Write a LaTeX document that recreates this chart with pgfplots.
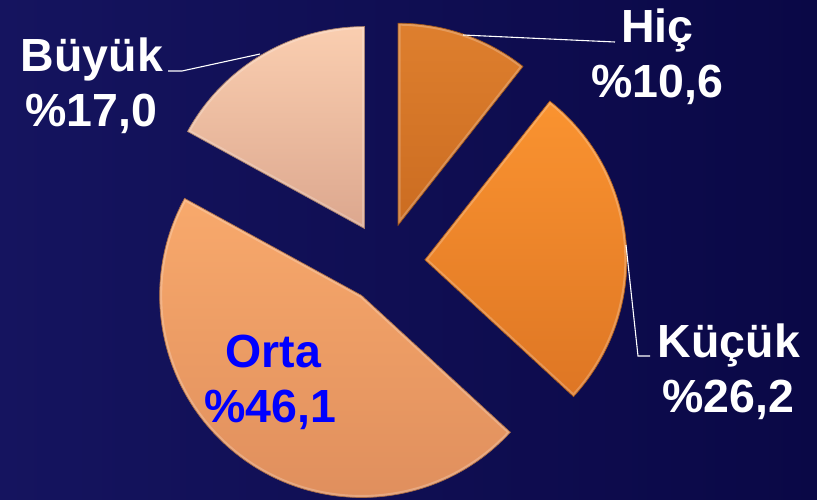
\documentclass[border=0pt]{standalone}
\usepackage{pgfplots}
\pgfplotsset{compat=1.18}
\usepackage{fontspec}
\setmainfont{Liberation Sans}
\definecolor{bgL}{HTML}{15145F}
\definecolor{bgR}{HTML}{0A0846}
\definecolor{hicT}{HTML}{DE7F2E}
\definecolor{hicB}{HTML}{CB6C21}
\definecolor{kucT}{HTML}{FA9330}
\definecolor{kucB}{HTML}{DE7624}
\definecolor{ortT}{HTML}{F8A96C}
\definecolor{ortB}{HTML}{DE8D5C}
\definecolor{buyT}{HTML}{FACEB0}
\definecolor{buyB}{HTML}{DCA78E}
\newcommand\slicepath[4]{(axis cs:#1,#2) -- ++(#3:\R pt) arc[start angle=#3, end angle=#4, radius=\R pt] -- cycle}
\newcommand\slice[6]{%
  \shade[overlay, top color=#5, bottom color=#6] \slicepath{#1}{#2}{#3}{#4};
  \begin{scope}[overlay]
    \clip \slicepath{#1}{#2}{#3}{#4};
    \draw[white, opacity=0.22, line width=5pt] \slicepath{#1}{#2}{#3}{#4};
  \end{scope}
  \draw[overlay, #6!75!black, line width=0.7pt] \slicepath{#1}{#2}{#3}{#4};
}
\begin{document}
\begin{tikzpicture}
% data (percent)
\def\vHic{10.6}\def\vKuc{26.2}\def\vOrt{46.1}\def\vBuy{17.0}
\pgfmathsetmacro\tot{\vHic+\vKuc+\vOrt+\vBuy}
\def\R{202}\def\ex{40}\def\cx{385}\def\cy{236}
% angles (clockwise from 90)
\pgfmathsetmacro\aA{90}
\pgfmathsetmacro\aB{\aA-(\vHic/\tot)*360}
\pgfmathsetmacro\aC{\aB-(\vKuc/\tot)*360}
\pgfmathsetmacro\aD{\aC-(\vOrt/\tot)*360}
\pgfmathsetmacro\aE{\aD-(\vBuy/\tot)*360}
% apex points
\pgfmathsetmacro\hx{\cx+\ex*cos((\aA+\aB)/2)}\pgfmathsetmacro\hy{\cy+\ex*sin((\aA+\aB)/2)}
\pgfmathsetmacro\kx{\cx+\ex*cos((\aB+\aC)/2)}\pgfmathsetmacro\ky{\cy+\ex*sin((\aB+\aC)/2)}
\pgfmathsetmacro\ox{\cx+\ex*cos((\aC+\aD)/2)}\pgfmathsetmacro\oy{\cy+\ex*sin((\aC+\aD)/2)}
\pgfmathsetmacro\bx{\cx+\ex*cos((\aD+\aE)/2)}\pgfmathsetmacro\by{\cy+\ex*sin((\aD+\aE)/2)}
\begin{axis}[hide axis, scale only axis, width=817pt, height=499pt,
  xmin=0, xmax=817, ymin=0, ymax=499, clip=false]
\shade[left color=bgL, right color=bgR] (axis cs:0,0) rectangle (axis cs:817,499);
% slices
\slice{\hx}{\hy}{\aA}{\aB}{hicT}{hicB}
\slice{\kx}{\ky}{\aB}{\aC}{kucT}{kucB}
\slice{\ox}{\oy}{\aC}{\aD}{ortT}{ortB}
\slice{\bx}{\by}{\aD}{\aE}{buyT}{buyB}
% connectors
\draw[white, line width=1.1pt] (axis cs:463,464) -- (axis cs:615,457);
\draw[white, line width=1.1pt] (axis cs:260,445) -- (axis cs:182,428) -- (axis cs:168,428);
\draw[white, line width=1.1pt] (axis cs:626,254) -- (axis cs:638,143) -- (axis cs:650,143);
% labels
\begin{scope}[every node/.style={inner sep=0pt, anchor=base, font=\fontsize{46.5}{55}\selectfont\bfseries}]
\node[white] at (axis cs:657.5,456) {Hiç};
\node[white] at (axis cs:657,401) {\%10,6};
\node[white] at (axis cs:92,427) {Büyük};
\node[white] at (axis cs:91,372) {\%17,0};
\node[white] at (axis cs:729,142) {Küçük};
\node[white] at (axis cs:728,87) {\%26,2};
\node[blue] at (axis cs:273.5,132) {Orta};
\node[blue] at (axis cs:270,77) {\%46,1};
\end{scope}
\end{axis}
\end{tikzpicture}
\end{document}
